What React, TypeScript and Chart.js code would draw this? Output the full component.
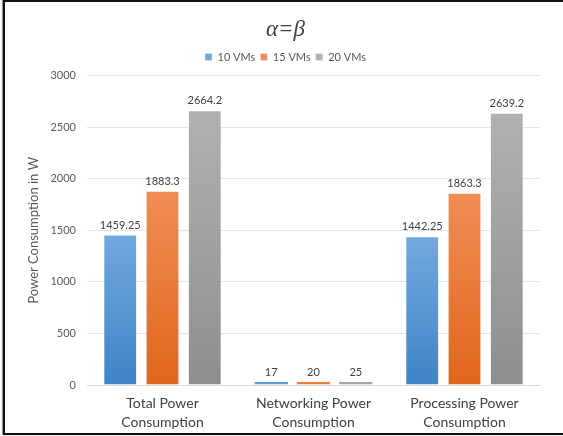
import React, { useEffect, useRef } from "react";
import { Chart, registerables } from "chart.js";

Chart.register(...registerables);

const categories: string[][] = [
  ["Total Power", "Consumption"],
  ["Networking Power", "Consumption"],
  ["Processing Power", "Consumption"],
];
const seriesNames = ["10 VMs", "15 VMs", "20 VMs"];
const vms10 = [1459.25, 17, 1442.25];
const vms15 = [1883.3, 20, 1863.3];
const vms20 = [2664.2, 25, 2639.2];
const yTicks = [0, 500, 1000, 1500, 2000, 2500, 3000];

const FONT = "Lato, 'Open Sans', sans-serif";

const grad = (solid: string, top: string, bottom: string) => (ctx: any) => {
  if (ctx.type !== "data") return solid;
  const chart = ctx.chart;
  const y = chart.scales && chart.scales.y;
  if (!y) return solid;
  const yTop = y.getPixelForValue(ctx.raw);
  const yBase = y.getPixelForValue(0);
  if (!isFinite(yTop) || !isFinite(yBase) || yBase - yTop < 4) return solid;
  const g = chart.ctx.createLinearGradient(0, yTop, 0, yBase);
  g.addColorStop(0, top);
  g.addColorStop(1, bottom);
  return g;
};

const edge = (solid: string) => (ctx: any) => {
  if (ctx.type !== "data" || ctx.raw < 100) return solid;
  return "rgba(255,255,255,0.3)";
};

const dataLabels = {
  id: "dataLabels",
  afterDatasetsDraw(chart: any) {
    const c = chart.ctx;
    c.save();
    c.font = `11px ${FONT}`;
    c.fillStyle = "#404040";
    c.textAlign = "center";
    c.textBaseline = "bottom";
    chart.data.datasets.forEach((ds: any, i: number) => {
      const meta = chart.getDatasetMeta(i);
      meta.data.forEach((el: any, j: number) => {
        c.fillText(String(ds.data[j]), el.x, el.y - 4);
      });
    });
    c.restore();
  },
};

export default function App() {
  const ref = useRef<HTMLCanvasElement>(null);
  useEffect(() => {
    if (!ref.current) return;
    const chart = new Chart(ref.current, {
      type: "bar",
      data: {
        labels: categories as any,
        datasets: [
          {
            label: seriesNames[0],
            data: vms10,
            backgroundColor: grad("#5B9BD5", "#72A8DE", "#3F84C6") as any,
            borderColor: edge("#5B9BD5") as any,
            borderWidth: 1,
          },
          {
            label: seriesNames[1],
            data: vms15,
            backgroundColor: grad("#ED7D31", "#F18D56", "#E0661A") as any,
            borderColor: edge("#ED7D31") as any,
            borderWidth: 1,
          },
          {
            label: seriesNames[2],
            data: vms20,
            backgroundColor: grad("#A5A5A5", "#B1B1B1", "#8E8E8E") as any,
            borderColor: edge("#A5A5A5") as any,
            borderWidth: 1,
          },
        ],
      },
      options: {
        responsive: false,
        animation: false,
        categoryPercentage: 0.84,
        barPercentage: 0.8,
        minBarLength: 3,
        layout: { padding: { left: 8, right: 0, top: 2, bottom: 0 } },
        plugins: {
          title: {
            display: true,
            text: "α=β",
            color: "#404040",
            font: { family: "'Liberation Serif', serif", size: 23, style: "italic", weight: "normal" },
            padding: { top: 14, bottom: 3 },
          },
          legend: {
            display: true,
            labels: {
              boxWidth: 7,
              boxHeight: 7,
              padding: 5,
              color: "#595959",
              font: { family: FONT, size: 11 },
            },
          },
          tooltip: { enabled: false },
        },
        scales: {
          x: {
            grid: { display: false, drawTicks: false },
            border: { display: true, color: "#D9D9D9" },
            ticks: {
              color: "#404040",
              font: { family: FONT, size: 14, lineHeight: 1.35 },
              padding: 9,
              maxRotation: 0,
              autoSkip: false,
            },
            afterFit: (s: any) => {
              s.height = 51;
            },
          },
          x2: {
            position: "top",
            display: true,
            grid: { display: false, drawTicks: false },
            border: { display: false },
            ticks: { display: false },
            afterFit: (s: any) => {
              s.height = 3;
            },
          },
          y: {
            min: 0,
            max: 3000,
            afterBuildTicks: (s: any) => {
              s.ticks = yTicks.map((v) => ({ value: v }));
            },
            grid: { color: "#DFE4EA", drawTicks: false },
            border: { display: false },
            ticks: {
              color: "#595959",
              font: { family: FONT, size: 11 },
              padding: 11,
              callback: (v: any) => String(v),
            },
            title: {
              display: true,
              text: "Power Consumption in W",
              color: "#595959",
              font: { family: FONT, size: 13 },
              padding: { top: 18, bottom: 0 },
            },
            afterFit: (s: any) => {
              s.width = 79;
            },
          },
          y2: {
            position: "right",
            display: true,
            grid: { display: false, drawTicks: false },
            border: { display: false },
            ticks: { display: false },
            afterFit: (s: any) => {
              s.width = 23;
            },
          },
        },
      },
      plugins: [dataLabels],
    });
    return () => chart.destroy();
  }, []);
  return (
    <div
      style={{
        position: "fixed",
        left: 0,
        top: 0,
        width: 563,
        height: 436,
        background: "#fff",
        overflow: "hidden",
      }}
    >
      <div
        style={{
          position: "absolute",
          left: 3,
          top: 0,
          width: 620,
          height: 431,
          borderTop: "2px solid #111",
          borderLeft: "2px solid #111",
          borderBottom: "2px solid #111",
          boxShadow: "-1px 0 1px #999",
        }}
      />
      <canvas
        ref={ref}
        width={563}
        height={436}
        style={{ position: "absolute", left: 0, top: 0, width: 563, height: 436 }}
      />
    </div>
  );
}
